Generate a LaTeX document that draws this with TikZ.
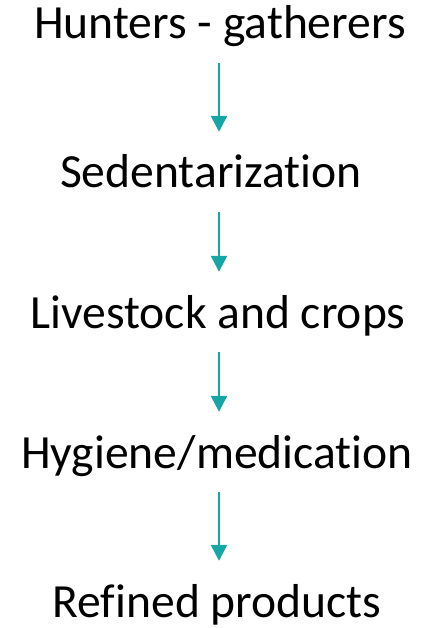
\documentclass[tikz,border=0pt]{standalone}
\usepackage{fontspec}
\setmainfont{Carlito}[RawFeature={-liga;-clig;-calt;-dlig}]
\usetikzlibrary{arrows.meta}
\definecolor{tealarrow}{RGB}{23,166,166}
\newcommand{\nolig}{\kern0pt{}}
\tikzset{
  label/.style={anchor=base, inner sep=0pt, text height=33pt, text depth=9pt,
    font=\fontsize{47.6}{56}\selectfont, text=black},
  flowarrow/.style={draw=tealarrow, line width=2.5pt,
    -{Triangle[width=16pt,length=16pt]}, shorten <=15pt, shorten >=23pt}
}
\begin{document}
\begin{tikzpicture}[x=1pt,y=-1pt]
\useasboundingbox (0,0) rectangle (444,628);
\coordinate (ax) at (219,0);
\node[label] (n1) at (220,39) {Hunters - gatherers};
\node[label] (n2) at (211,188) {Sedentarizat\nolig ion};
\node[label] (n3) at (218,328) {Livestock and crops};
\node[label] (n4) at (217,468) {Hygiene/medicat\nolig ion};
\node[label] (n5) at (217,617) {Ref\nolig ined products};
\draw[flowarrow] (n1.south -| ax) -- (n2.north -| ax);
\draw[flowarrow] (n2.south -| ax) -- (n3.north -| ax);
\draw[flowarrow] (n3.south -| ax) -- (n4.north -| ax);
\draw[flowarrow] (n4.south -| ax) -- (n5.north -| ax);
\end{tikzpicture}
\end{document}
